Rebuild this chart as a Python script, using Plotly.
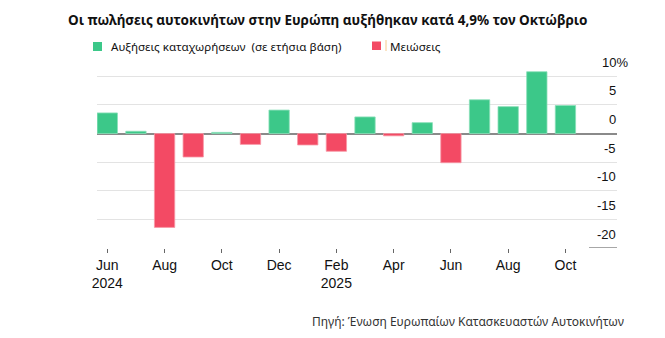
import plotly.graph_objects as go

# Monthly year-on-year change in European new-car registrations (%)
months = ["2024-06", "2024-07", "2024-08", "2024-09", "2024-10", "2024-11",
          "2024-12", "2025-01", "2025-02", "2025-03", "2025-04", "2025-05",
          "2025-06", "2025-07", "2025-08", "2025-09", "2025-10"]
yoy_change = [3.6, 0.4, -16.4, -4.1, 0.2, -1.9, 4.1, -2.0, -3.1, 2.9, -0.4,
              1.9, -5.1, 5.9, 4.7, 10.8, 4.9]

x_tick_months = ["2024-06", "2024-08", "2024-10", "2024-12", "2025-02",
                 "2025-04", "2025-06", "2025-08", "2025-10"]
x_tick_text = ["Jun<br>2024", "Aug", "Oct", "Dec", "Feb<br>2025", "Apr",
               "Jun", "Aug", "Oct"]

y_tick_vals = [10, 5, 0, -5, -10, -15, -20]
y_tick_text = ["10%", "5", "0", "-5", "-10", "-15", "-20"]

title_text = "Οι πωλήσεις αυτοκινήτων στην Ευρώπη αυξήθηκαν κατά 4,9% τον Οκτώβριο"
legend_up = "Αυξήσεις καταχωρήσεων  (σε ετήσια βάση)"
legend_down = "Μειώσεις"
source_text = "Πηγή: Ένωση Ευρωπαίων Κατασκευαστών Αυτοκινήτων"

GREEN = "#3cc889"
RED = "#f34a64"
GREEN_EDGE = "#8adfb9"
RED_EDGE = "#f898a6"

W, H = 665, 338
L, R, T, B = 97, 48, 62, 90
PW, PH = W - L - R, H - T - B


def px(x):
    return (x - L) / PW


def py(y):
    return (H - B - y) / PH


colors = [GREEN if v >= 0 else RED for v in yoy_change]
edges = [GREEN_EDGE if v >= 0 else RED_EDGE for v in yoy_change]

fig = go.Figure(go.Bar(
    x=months, y=yoy_change,
    marker=dict(color=colors, line=dict(color=edges, width=0.8)),
    width=0.71, showlegend=False,
))

fig.update_xaxes(
    type="category", range=[-0.36, 17.8],
    tickmode="array", tickvals=x_tick_months, ticktext=x_tick_text,
    ticks="outside", ticklen=4, tickwidth=1, tickcolor="#666",
    showgrid=False, zeroline=False, showline=False,
    tickfont=dict(family="Liberation Sans, Arial", size=14, color="#111"),
)
fig.update_yaxes(
    range=[-20, 12.5],
    tickmode="array", tickvals=[10, 5, -5, -10, -15],
    showticklabels=False, ticks="",
    showgrid=True, gridcolor="#e3e3e3", gridwidth=1,
    zeroline=True, zerolinecolor="#8a8a8a", zerolinewidth=1.8,
    showline=False,
)

annotations = []
# value labels sit just above their gridlines; the % sign hangs past the edge
for v, t in zip(y_tick_vals, y_tick_text):
    annotations.append(dict(
        x=1, xref="paper", y=v, yref="y", text=t, showarrow=False,
        xanchor="right", yanchor="middle", yshift=14,
        xshift=1 + (11.5 if t.endswith("%") else 0),
        font=dict(family="Liberation Sans, Arial", size=13, color="#111"),
    ))

annotations += [
    dict(x=px(327), xref="paper", y=py(20), yref="paper", text=f"<b>{title_text}</b>",
         showarrow=False, xanchor="center", yanchor="middle",
         font=dict(family="Noto Sans", size=13.5, color="#111")),
    dict(x=px(109), xref="paper", y=py(46), yref="paper", text=legend_up,
         showarrow=False, xanchor="left", yanchor="middle",
         font=dict(family="Noto Sans", size=11.6, color="#111")),
    dict(x=px(388), xref="paper", y=py(46), yref="paper", text=legend_down,
         showarrow=False, xanchor="left", yanchor="middle",
         font=dict(family="Noto Sans", size=11.6, color="#111")),
    dict(x=px(626), xref="paper", y=py(321), yref="paper", text=source_text,
         showarrow=False, xanchor="right", yanchor="middle",
         font=dict(family="Noto Sans", size=12, color="#333")),
]

shapes = [
    dict(type="rect", xref="paper", yref="paper", x0=px(93), x1=px(102),
         y0=py(51), y1=py(42), fillcolor=GREEN, line_width=0),
    dict(type="rect", xref="paper", yref="paper", x0=px(372), x1=px(381),
         y0=py(50), y1=py(41.5), fillcolor=RED, line_width=0),
    dict(type="line", xref="paper", yref="paper", x0=px(386), x1=px(386),
         y0=py(51), y1=py(40), line=dict(color="#f7c98a", width=1)),
    dict(type="line", xref="paper", yref="y", x0=px(589), x1=1,
         y0=-20, y1=-20, line=dict(color="#8a8a8a", width=1.5)),
]

fig.update_layout(
    width=W, height=H,
    margin=dict(l=L, r=R, t=T, b=B),
    paper_bgcolor="white", plot_bgcolor="white",
    bargap=0.29,
    annotations=annotations, shapes=shapes,
)

fig.write_html("out.html")
